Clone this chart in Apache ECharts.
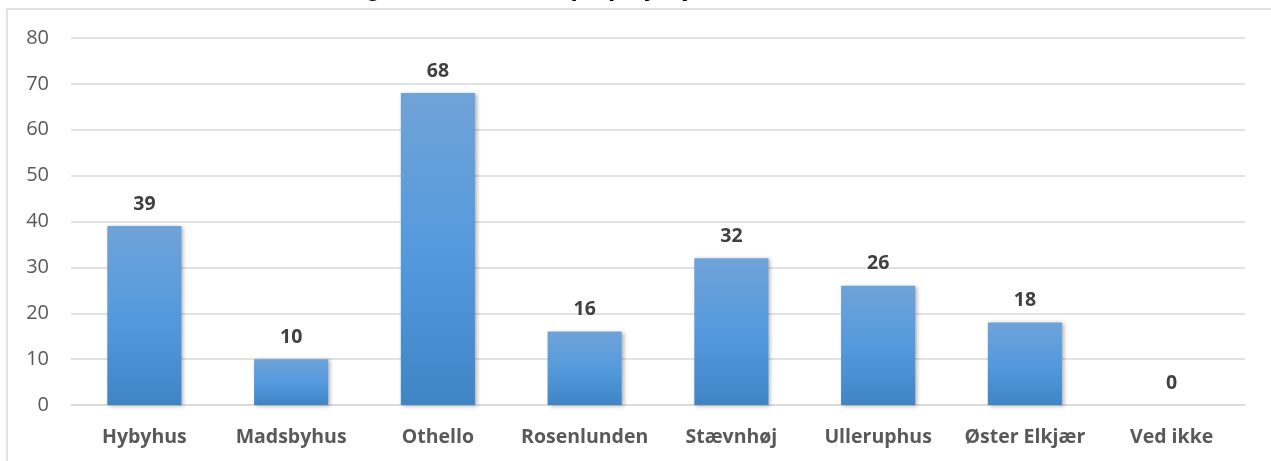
<!DOCTYPE html>
<html><head><meta charset="utf-8">
<script src="https://cdn.jsdelivr.net/npm/echarts@6/dist/echarts.min.js"></script>
<style>html,body{margin:0;padding:0;background:#fff}#c{width:1271px;height:461px}</style>
</head><body><div id="c"></div>
<script>
var categories = ["Hybyhus","Madsbyhus","Othello","Rosenlunden","Stævnhøj","Ulleruphus","Øster Elkjær","Ved ikke"];
var values = [39,10,68,16,32,26,18,0];
var yTicks = [0,10,20,30,40,50,60,70,80];
var titleText = "Fordeling af besvarelser på plejehjem i Fredericia Kommune";

var chart = echarts.init(document.getElementById('c'));
chart.setOption({
  animation:false,
  backgroundColor:'#fff',
  textStyle:{fontFamily:'Open Sans'},
  title:{text:titleText,left:'center',top:-29,textStyle:{fontFamily:'Liberation Sans',fontWeight:'bold',fontSize:26,color:'#000'}},
  graphic:[{type:'rect',shape:{x:7,y:9,width:1300,height:500},style:{fill:'none',stroke:'#d9d9d9',lineWidth:1.5},z:-1}],
  grid:{left:71,right:26,top:38,bottom:56},
  xAxis:{type:'category',data:categories,
    axisLine:{lineStyle:{color:'#d9d9d9',width:1.5}},axisTick:{show:false},
    axisLabel:{color:'#595959',fontWeight:'bold',fontSize:19.5,margin:22,interval:0}},
  yAxis:{type:'value',min:0,max:80,interval:10,
    axisLine:{show:false},axisTick:{show:false},
    splitLine:{lineStyle:{color:'#d9d9d9',width:1.5}},
    axisLabel:{color:'#595959',fontSize:20,margin:22,
      formatter:function(v){return yTicks.indexOf(v)>=0?String(v):'';}}},
  series:[{type:'bar',data:values,barWidth:'50.5%',
    itemStyle:{color:new echarts.graphic.LinearGradient(0,0,0,1,[{offset:0,color:'#6fa3d8'},{offset:0.5,color:'#559add'},{offset:1,color:'#3f85c6'}]),
      shadowColor:'rgba(0,0,0,0.3)',shadowBlur:4,shadowOffsetX:2,shadowOffsetY:1},
    label:{show:true,position:'top',distance:12,color:'#404040',fontWeight:'bold',fontSize:19.5}}]
});
</script></body></html>
